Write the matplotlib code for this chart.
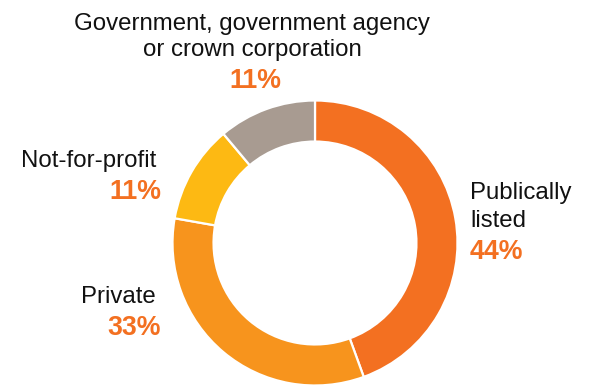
import matplotlib.pyplot as plt

# --- Dữ liệu ---
labels = ['Publically\nlisted', 'Private', 'Not-for-profit',
          'Government, government agency\nor crown corporation']
shares = [44, 33, 11, 11]
colors = ['#F37021', '#F7941D', '#FDB913', '#A89B91']
pct_color = '#F37021'

W, H = 590, 385
CX, CY, R = 315, 243, 142.5   # tâm và bán kính vòng (pixel)


def fx(px):
    return px / W


def fy(py):
    return (H - py) / H


plt.rcParams['font.family'] = ['Liberation Sans', 'DejaVu Sans']

fig = plt.figure(figsize=(W / 100, H / 100), dpi=100)
ax = fig.add_axes([fx(CX - R), fy(CY + R), 2 * R / W, 2 * R / H])
ax.pie(shares, colors=colors, startangle=90, counterclock=False, radius=1,
       wedgeprops=dict(width=0.288, edgecolor='white', linewidth=1.6))
ax.set_xlim(-1, 1)
ax.set_ylim(-1, 1)
ax.set_aspect('equal')
ax.axis('off')

name_kw = dict(fontsize=17.3, color='#111111', va='baseline')
pct_kw = dict(fontsize=19.3, color=pct_color, fontweight='bold', va='baseline')

# Publically listed - bên phải
l1, l2 = labels[0].split('\n')
fig.text(fx(470), fy(199), l1, ha='left', **name_kw)
fig.text(fx(470), fy(227), l2, ha='left', **name_kw)
fig.text(fx(470), fy(259), f'{shares[0]}%', ha='left', **pct_kw)

# Private - bên trái dưới
fig.text(fx(156), fy(303), labels[1], ha='right', **name_kw)
fig.text(fx(161), fy(335), f'{shares[1]}%', ha='right', **pct_kw)

# Not-for-profit - bên trái trên
fig.text(fx(156), fy(167), labels[2], ha='right', **name_kw)
fig.text(fx(161), fy(199), f'{shares[2]}%', ha='right', **pct_kw)

# Government - phía trên
g1, g2 = labels[3].split('\n')
fig.text(fx(252), fy(30), g1, ha='center', **name_kw)
fig.text(fx(252), fy(56), g2, ha='center', **name_kw)
fig.text(fx(255), fy(88), f'{shares[3]}%', ha='center', **pct_kw)

fig.savefig('out.png', dpi=100)
